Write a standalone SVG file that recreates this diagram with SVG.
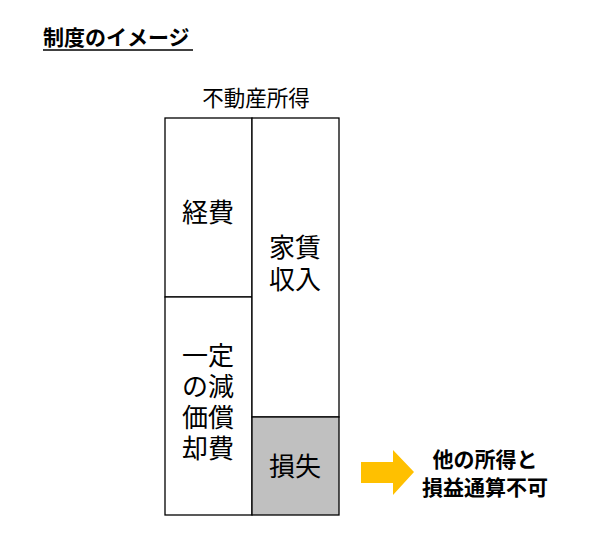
<svg xmlns="http://www.w3.org/2000/svg" width="600" height="537" viewBox="0 0 600 537">
<style>
text{font-family:"Noto Sans CJK JP","Noto Sans",sans-serif;fill:#000}
.box{fill:#fff;stroke:#000;stroke-width:1.3}
.lbl{font-size:26px;text-anchor:middle}
.bold{font-weight:bold;font-size:21px;text-anchor:middle}
</style>
<rect width="600" height="537" fill="#fff"/>
<g id="title">
<text x="43" y="45" style="font-size:21px;font-weight:bold">制度のイメージ</text>
<line x1="43" y1="50" x2="193" y2="50" stroke="#000" stroke-width="1.5"/>
</g>
<g id="header"><text x="256" y="106" style="font-size:21.5px;text-anchor:middle">不動産所得</text></g>
<g id="keihi"><rect class="box" x="165" y="118" width="87" height="179"/><text class="lbl" x="208" y="222">経費</text></g>
<g id="genka"><rect class="box" x="165" y="297" width="87" height="218"/>
<text class="lbl" x="208" y="365"><tspan x="208">一定</tspan><tspan x="208" dy="31">の減</tspan><tspan x="208" dy="31">価償</tspan><tspan x="208" dy="31">却費</tspan></text></g>
<g id="yachin"><rect class="box" x="252" y="118" width="87" height="299"/><text class="lbl" x="295" y="257"><tspan x="295">家賃</tspan><tspan x="295" dy="32">収入</tspan></text></g>
<g id="sonshitsu"><rect class="box" x="252" y="417" width="87" height="98" style="fill:#c0c0c0"/><text class="lbl" x="295" y="476">損失</text></g>
<g id="connectors"><polygon points="361,462 393,462 393,450 414,472 393,495 393,483 361,483" fill="#ffc000"/></g>
<g id="note"><text class="bold" x="485" y="467"><tspan x="485">他の所得と</tspan><tspan x="485" dy="28">損益通算不可</tspan></text></g>
</svg>
